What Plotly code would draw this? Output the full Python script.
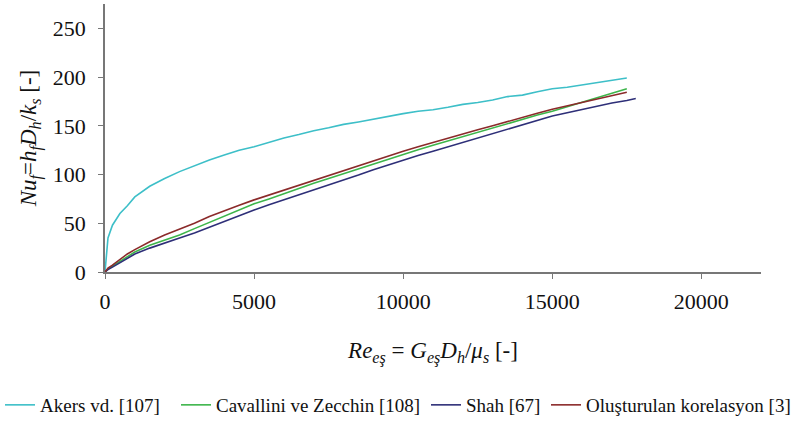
import plotly.graph_objects as go

re_x = [0, 100, 250, 500, 750, 1000, 1500, 2000, 2500, 3000, 3500, 4000, 4500, 5000,
        5500, 6000, 6500, 7000, 7500, 8000, 8500, 9000, 9500, 10000, 10500, 11000,
        11500, 12000, 12500, 13000, 13500, 14000, 14500, 15000, 15500, 16000, 16500,
        17000, 17500]

akers = [0, 35, 48, 60, 68, 77, 88, 96, 103, 109, 115, 120, 125, 128.5, 133, 137.5, 141,
         145, 148, 151.5, 154, 157, 160, 162.5, 165, 166.5, 169, 172, 174, 176.5, 180,
         181.5, 185, 188, 189.5, 192, 194, 197, 199]

cavallini = [0, 3, 6, 11, 16, 20.5, 27.5, 33, 38, 44.5, 51, 57.5, 63.5, 70, 75, 80.5,
             85.5, 91, 96, 101, 106, 111, 116, 121, 125.5, 130, 134.5, 139, 143.5, 148,
             152.5, 156.5, 161, 165, 169.5, 174, 179, 183.5, 188]

olusturulan = [0, 4, 7, 13, 18.5, 23, 31, 38, 44, 50, 57, 63, 68.5, 74, 79, 84.5, 89,
               94.5, 99, 104.5, 109, 114.5, 119, 124, 128.5, 133, 137, 141.5, 146, 150,
               154.5, 158.5, 163, 167, 170.5, 174, 177.5, 181, 184.5]

shah_x = [0, 100, 250, 500, 750, 1000, 1500, 2000, 2500, 3000, 3500, 4000, 4500, 5000,
          5500, 6000, 6500, 7000, 7500, 8000, 8500, 9000, 9500, 10000, 10500, 11000,
          11500, 12000, 12500, 13000, 13500, 14000, 14500, 15000, 15500, 16000, 16500,
          17000, 17500, 17800]
shah = [0, 2.5, 5, 9.5, 14, 18.5, 24.5, 30, 35, 40, 46, 52, 58, 63.5, 69, 74, 79, 84.5,
        89.5, 94.5, 99.5, 105, 110, 115, 119.5, 124, 128.5, 133, 137, 142, 146, 151,
        155.5, 160, 163.5, 167, 170, 173.5, 176, 178]

series = [
    ("Akers vd. [107]", re_x, akers, "#3DBFC8"),
    ("Cavallini ve Zecchin [108]", re_x, cavallini, "#3DB54A"),
    ("Shah [67]", shah_x, shah, "#2E2F78"),
    ("Oluşturulan korelasyon [3]", re_x, olusturulan, "#8B2A2A"),
]

x_ticks = [0, 5000, 10000, 15000, 20000]
x_tick_labels = ["0", "5000", "10000", "15000", "20000"]
y_ticks = [0, 50, 100, 150, 200, 250]
y_tick_labels = ["0", "50", "100", "150", "200", "250"]

font_family = "Liberation Serif, DejaVu Serif, serif"

# one single-entry legend per series, laid out in a row along the bottom
legend_ids = ["legend", "legend2", "legend3", "legend4"]
legend_left_px = [0, 176, 426, 546]

fig = go.Figure()
for (name, xs, ys, col), lid in zip(series, legend_ids):
    fig.add_trace(go.Scatter(x=xs, y=ys, mode="lines", name=name, legend=lid,
                             line=dict(color=col, width=1.6)))

W, H = 802, 423
legend_layouts = {}
for lid, lx in zip(legend_ids, legend_left_px):
    legend_layouts[lid] = dict(
        orientation="h", xref="container", yref="container",
        x=lx / W, xanchor="left", y=1 - 405 / H, yanchor="middle",
        font=dict(family=font_family, size=19, color="#111"),
        itemwidth=30, bgcolor="rgba(0,0,0,0)")

fig.update_layout(
    width=W, height=H,
    margin=dict(l=105, r=41, t=4, b=151),
    paper_bgcolor="white", plot_bgcolor="white",
    font=dict(family=font_family, size=17, color="#111"),
    showlegend=True,
    **legend_layouts,
    xaxis=dict(range=[0, 22000], tickvals=x_ticks, ticktext=x_tick_labels,
               ticks="outside", ticklen=5, ticklabelstandoff=4,
               tickcolor="#777", showline=True, linecolor="#777", linewidth=1.5,
               showgrid=False, zeroline=False,
               tickfont=dict(family=font_family, size=22),
               title=dict(text="<i>Re</i><sub><i>eş</i></sub> = <i>G</i><sub><i>eş</i></sub><i>D</i><sub><i>h</i></sub>/<i>μ</i><sub><i>s</i></sub> [-]",
                          font=dict(family=font_family, size=23), standoff=29)),
    yaxis=dict(range=[0, 275], tickvals=y_ticks, ticktext=y_tick_labels,
               ticks="outside", ticklen=5, ticklabelstandoff=8,
               tickcolor="#777", showline=True, linecolor="#777", linewidth=1.5,
               showgrid=False, zeroline=False,
               tickfont=dict(family=font_family, size=22),
               title=dict(text="<i>Nu</i><sub><i>f</i></sub>=<i>h</i><sub><i>f</i></sub><i>D</i><sub><i>h</i></sub>/<i>k</i><sub><i>s</i></sub> [-]",
                          font=dict(family=font_family, size=23), standoff=10)),
)

fig.write_html("out.html")
